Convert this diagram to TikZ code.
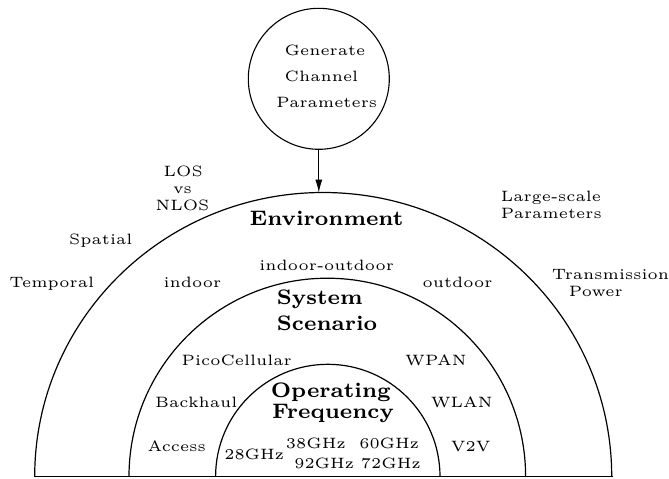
\documentclass[tikz,border=0pt]{standalone}
\usepackage{fontspec}
\usetikzlibrary{arrows.meta}
% small optical sizes of Latin Modern, set large
\newfontfamily\lmsmall{lmroman5-regular.otf}
\newfontfamily\lmsmallbf{lmroman7-bold.otf}
\tikzset{
  lbl/.style={anchor=base, inner sep=0pt, font=\lmsmall\fontsize{15}{18}\selectfont},
  title/.style={anchor=base, inner sep=0pt, font=\lmsmallbf\fontsize{21}{25}\selectfont},
  ring/.style={line width=1.2pt},
}
\begin{document}
\begin{tikzpicture}[x=1pt,y=-1pt]
\useasboundingbox (0,0) rectangle (669,479);

% top circle and arrow
\node[draw, circle, line width=1.1pt, minimum size=141pt, inner sep=0pt] (gen) at (318.8,78.8) {};
\node[lbl] (g1) at (325,55) {Generate};
\node[lbl] (g2) at (321.5,81.7) {Channel};
\node[lbl] (g3) at (326.7,107.3) {Parameters};
\coordinate (envtop) at (318.8,192.7);
\draw[line width=1.1pt, -{Latex[length=13pt,width=7pt]}] (gen.south) -- (envtop);

% half rings
\draw[ring] (34.7,476.5) arc[start angle=180, end angle=360, x radius=288.5, y radius=284];
\draw[ring] (129,476.5) arc[start angle=180, end angle=360, radius=198.3];
\draw[ring] (215.6,476.5) arc[start angle=180, end angle=360, radius=112.2];
\coordinate (bl) at (34,476.5);
\coordinate (br) at (612.5,476.5);
\draw[ring] (bl) -- (br);

% ring titles
\node[title] (env) at (326.5,225.3) {Environment};
\node[title, anchor=base west] (sys1) at (276.7,304.3) {System};
\node[title, anchor=base west] (sys2) at (276.7,330) {Scenario};
\node[title] (op1) at (330.8,397.3) {Operating};
\node[title] (op2) at (333,418.3) {Frequency};

% outside labels
\node[lbl] (los) at (183.3,176) {LOS};
\node[lbl] (vs) at (182.5,193) {vs};
\node[lbl] (nlos) at (182.5,210) {NLOS};
\node[lbl] (spa) at (100.8,244.3) {Spatial};
\node[lbl] (tem) at (51.7,287.7) {Temporal};
\node[lbl, anchor=base west] (lsp1) at (500.7,201.7) {Large-scale};
\node[lbl, anchor=base west] (lsp2) at (500.7,218.3) {Parameters};
\node[lbl] (tp1) at (610.5,279) {Transmission};
\node[lbl] (tp2) at (595.8,296.7) {Power};

% environment ring
\node[lbl] (ind) at (192.5,287.7) {indoor};
\node[lbl] (io) at (326.7,270) {indoor-outdoor};
\node[lbl] (outd) at (457.5,287.7) {outdoor};

% system scenario ring
\node[lbl] (pico) at (236.7,365) {PicoCellular};
\node[lbl] (wpan) at (435.8,365) {WPAN};
\node[lbl] (back) at (196.3,407.3) {Backhaul};
\node[lbl] (wlan) at (461.7,407.3) {WLAN};
\node[lbl] (acc) at (176.7,451) {Access};
\node[lbl] (v2v) at (470.8,451) {V2V};

% operating frequency ring
\node[lbl] (f28) at (254.2,459.3) {28GHz};
\node[lbl] (f38) at (315.8,448.3) {38GHz};
\node[lbl] (f60) at (389.2,448.3) {60GHz};
\node[lbl] (f92) at (324.2,468.3) {92GHz};
\node[lbl] (f72) at (390.8,468.3) {72GHz};
\end{tikzpicture}
\end{document}
